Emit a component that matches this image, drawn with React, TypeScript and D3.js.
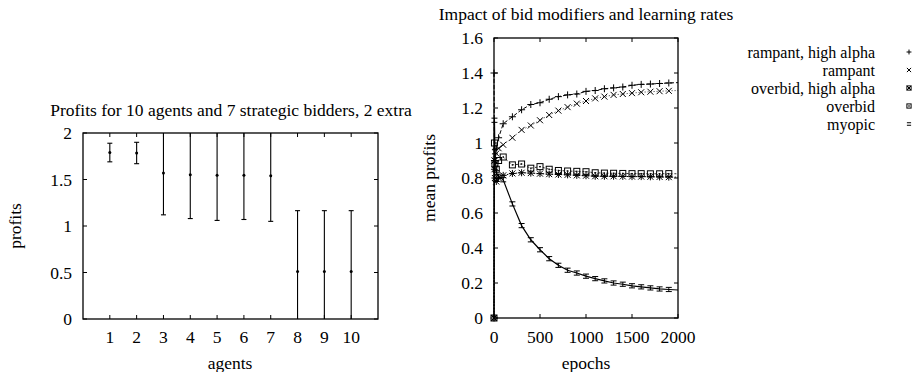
import React, { useEffect, useRef } from 'react';
import * as d3 from 'd3';

// left chart: profits per agent
const agents = [1, 2, 3, 4, 5, 6, 7, 8, 9, 10];
const agentMean = [1.79, 1.785, 1.57, 1.55, 1.545, 1.545, 1.54, 0.51, 0.51, 0.51];
const agentErr = [0.1, 0.115, 0.45, 0.47, 0.485, 0.475, 0.49, 0.655, 0.655, 0.655];
const agentTicks = [1, 2, 3, 4, 5, 6, 7, 8, 9, 10];
const profitTicks = [0, 0.5, 1, 1.5, 2];

// right chart: mean profits over epochs
const epochs = [0, 5, 10, 25, 50, 100, 200, 300, 400, 500, 600, 700, 800, 900, 1000,
  1100, 1200, 1300, 1400, 1500, 1600, 1700, 1800, 1900, 2000];
const rampantHigh = [1.4, 0.85, 0.9, 0.97, 1.03, 1.11, 1.15, 1.19, 1.22, 1.23, 1.25, 1.265, 1.275,
  1.28, 1.295, 1.3, 1.31, 1.315, 1.32, 1.33, 1.335, 1.337, 1.34, 1.343, 1.345];
const rampant = [0, 0.85, 0.9, 0.94, 0.97, 0.99, 1.03, 1.075, 1.1, 1.13, 1.16, 1.185, 1.205,
  1.225, 1.24, 1.255, 1.265, 1.275, 1.28, 1.285, 1.29, 1.293, 1.296, 1.298, 1.3];
const overbidHigh = [0, 0.9, 0.8, 0.78, 0.8, 0.815, 0.826, 0.83, 0.828, 0.825, 0.822, 0.82, 0.818,
  0.815, 0.813, 0.81, 0.81, 0.81, 0.809, 0.808, 0.808, 0.807, 0.806, 0.805, 0.805];
const overbid = [0, 1.0, 0.88, 0.85, 0.9, 0.92, 0.875, 0.88, 0.856, 0.865, 0.85, 0.843, 0.84,
  0.838, 0.836, 0.83, 0.828, 0.827, 0.826, 0.825, 0.825, 0.824, 0.824, 0.825, 0.824];
const myopic = [0, 1.13, 0.95, 0.83, 0.81, 0.79, 0.652, 0.528, 0.447, 0.39, 0.339, 0.301, 0.273,
  0.257, 0.239, 0.225, 0.212, 0.2, 0.193, 0.184, 0.178, 0.172, 0.166, 0.163, 0.16];
const myopicErr = 0.012;
const epochTicks = [0, 500, 1000, 1500, 2000];
const meanTicks = [0, 0.2, 0.4, 0.6, 0.8, 1, 1.2, 1.4, 1.6];
const seriesNames = ['rampant, high alpha', 'rampant', 'overbid, high alpha', 'overbid', 'myopic'];

const FONT = '"Liberation Serif", "DejaVu Serif", serif';

function marker(g: any, kind: string, x: number, y: number, s = 1) {
  if (kind === 'plus') {
    g.append('path').attr('d', `M${x - 3.5 * s},${y}h${7 * s}M${x},${y - 3.5 * s}v${7 * s}`).attr('stroke', '#000');
  } else if (kind === 'cross') {
    g.append('path').attr('d', `M${x - 3 * s},${y - 3 * s}l${6 * s},${6 * s}M${x - 3 * s},${y + 3 * s}l${6 * s},${-6 * s}`).attr('stroke', '#000');
  } else if (kind === 'star') {
    g.append('path')
      .attr('d', `M${x - 3.5},${y}h7M${x},${y - 3.5}v7M${x - 3},${y - 3}l6,6M${x - 3},${y + 3}l6,-6`)
      .attr('stroke', '#000');
  } else if (kind === 'square') {
    g.append('rect').attr('x', x - 3 * s).attr('y', y - 3 * s).attr('width', 6 * s).attr('height', 6 * s)
      .attr('fill', 'none').attr('stroke', '#000');
    g.append('rect').attr('x', x - 0.7).attr('y', y - 0.7).attr('width', 1.4).attr('height', 1.4).attr('fill', '#000');
  } else if (kind === 'boxstar') {
    g.append('rect').attr('x', x - 3 * s).attr('y', y - 3 * s).attr('width', 6 * s).attr('height', 6 * s)
      .attr('fill', 'none').attr('stroke', '#000');
    g.append('path').attr('d', `M${x - 3 * s},${y - 3 * s}l${6 * s},${6 * s}M${x - 3 * s},${y + 3 * s}l${6 * s},${-6 * s}`).attr('stroke', '#000');
  } else if (kind === 'equal') {
    g.append('path').attr('d', `M${x - 3 * s},${y - 1.8 * s}h${6 * s}M${x - 3 * s},${y + 1.8 * s}h${6 * s}`).attr('stroke', '#000');
  }
}

export default function App() {
  const ref = useRef<SVGSVGElement>(null);

  useEffect(() => {
    const svg = d3.select(ref.current);
    svg.selectAll('*').remove();
    svg.attr('font-family', FONT).attr('font-size', 17.5);

    // ---------- left chart ----------
    const L = { left: 83, right: 378, top: 133, bottom: 319 };
    const x1 = d3.scaleLinear().domain([0, 11]).range([L.left, L.right]);
    const y1 = d3.scaleLinear().domain([0, 2]).range([L.bottom, L.top]);

    const left = svg.append('g');
    left.append('defs').append('clipPath').attr('id', 'clipL')
      .append('rect').attr('x', L.left).attr('y', L.top)
      .attr('width', L.right - L.left).attr('height', L.bottom - L.top);

    const bars = left.append('g').attr('clip-path', 'url(#clipL)');
    agents.forEach((a, i) => {
      const cx = x1(a);
      const lo = agentMean[i] - agentErr[i];
      const hi = agentMean[i] + agentErr[i];
      bars.append('line').attr('x1', cx).attr('x2', cx).attr('y1', y1(lo)).attr('y2', y1(hi))
        .attr('stroke', '#000').attr('stroke-width', 1.1);
      [lo, hi].forEach(v => {
        bars.append('line').attr('x1', cx - 2.5).attr('x2', cx + 2.5).attr('y1', y1(v)).attr('y2', y1(v))
          .attr('stroke', '#000').attr('stroke-width', 1.1);
      });
      bars.append('circle').attr('cx', cx).attr('cy', y1(agentMean[i])).attr('r', 1.5).attr('fill', '#000');
    });

    agentTicks.forEach(t => {
      left.append('line').attr('x1', x1(t)).attr('x2', x1(t)).attr('y1', L.bottom).attr('y2', L.bottom - 4).attr('stroke', '#000');
      left.append('line').attr('x1', x1(t)).attr('x2', x1(t)).attr('y1', L.top).attr('y2', L.top + 4).attr('stroke', '#000');
      left.append('text').attr('x', x1(t)).attr('y', 343).attr('text-anchor', 'middle').text(t);
    });
    profitTicks.forEach(t => {
      left.append('line').attr('x1', L.left).attr('x2', L.left + 4).attr('y1', y1(t)).attr('y2', y1(t)).attr('stroke', '#000');
      left.append('line').attr('x1', L.right).attr('x2', L.right - 4).attr('y1', y1(t)).attr('y2', y1(t)).attr('stroke', '#000');
      left.append('text').attr('x', 72).attr('y', y1(t) + 6).attr('text-anchor', 'end').text(t);
    });
    left.append('rect').attr('x', L.left).attr('y', L.top).attr('width', L.right - L.left)
      .attr('height', L.bottom - L.top).attr('fill', 'none').attr('stroke', '#000').attr('stroke-width', 1.3);

    left.append('text').attr('x', 231).attr('y', 116).attr('text-anchor', 'middle')
      .text('Profits for 10 agents and 7 strategic bidders, 2 extra');
    left.append('text').attr('x', 230).attr('y', 369).attr('text-anchor', 'middle').text('agents');
    left.append('text').attr('transform', `translate(21,${(L.top + L.bottom) / 2}) rotate(-90)`)
      .attr('text-anchor', 'middle').text('profits');

    // ---------- right chart ----------
    const R = { left: 494, right: 678, top: 38, bottom: 318 };
    const x2 = d3.scaleLinear().domain([0, 2000]).range([R.left, R.right]);
    const y2 = d3.scaleLinear().domain([0, 1.6]).range([R.bottom, R.top]);

    const right = svg.append('g');
    right.append('defs').append('clipPath').attr('id', 'clipR')
      .append('rect').attr('x', R.left - 4).attr('y', R.top).attr('width', R.right - R.left + 4)
      .attr('height', R.bottom - R.top + 4);
    const plot = right.append('g').attr('clip-path', 'url(#clipR)');

    const series = [
      { values: rampantHigh, mark: 'plus', dash: '4,2', color: '#000', width: 1 },
      { values: rampant, mark: 'cross', dash: '1.2,1.8', color: '#555', width: 1 },
      { values: overbidHigh, mark: 'star', dash: '1.5,1.5', color: '#000', width: 1 },
      { values: overbid, mark: 'square', dash: '2,2', color: '#333', width: 1 },
      { values: myopic, mark: 'err', dash: null, color: '#000', width: 1.2 },
    ];

    const line = d3.line<number>().x((d, i) => x2(epochs[i])).y(d => y2(d));

    series.forEach(s => {
      const p = plot.append('path').attr('d', line(s.values)).attr('fill', 'none')
        .attr('stroke', s.color).attr('stroke-width', s.width);
      if (s.dash) p.attr('stroke-dasharray', s.dash);
      s.values.forEach((v, i) => {
        if (epochs[i] === 2000) return;
        const px = x2(epochs[i]);
        const py = y2(v);
        if (s.mark === 'err') {
          const top = y2(v + myopicErr);
          const bot = y2(v - myopicErr);
          plot.append('path')
            .attr('d', `M${px},${top}V${bot}M${px - 3},${top}h6M${px - 3},${bot}h6`)
            .attr('stroke', '#000').attr('fill', 'none');
        } else {
          marker(plot, s.mark, px, py);
        }
      });
    });

    epochTicks.forEach(t => {
      right.append('line').attr('x1', x2(t)).attr('x2', x2(t)).attr('y1', R.bottom).attr('y2', R.bottom - 4).attr('stroke', '#000');
      right.append('line').attr('x1', x2(t)).attr('x2', x2(t)).attr('y1', R.top).attr('y2', R.top + 4).attr('stroke', '#000');
      right.append('text').attr('x', x2(t)).attr('y', 343).attr('text-anchor', 'middle').text(t);
    });
    meanTicks.forEach(t => {
      right.append('line').attr('x1', R.left).attr('x2', R.left + 4).attr('y1', y2(t)).attr('y2', y2(t)).attr('stroke', '#000');
      right.append('line').attr('x1', R.right).attr('x2', R.right - 4).attr('y1', y2(t)).attr('y2', y2(t)).attr('stroke', '#000');
      right.append('text').attr('x', 483).attr('y', y2(t) + 6).attr('text-anchor', 'end').text(t);
    });
    right.append('rect').attr('x', R.left).attr('y', R.top).attr('width', R.right - R.left)
      .attr('height', R.bottom - R.top).attr('fill', 'none').attr('stroke', '#000').attr('stroke-width', 1.3);

    right.append('text').attr('x', 586).attr('y', 20).attr('text-anchor', 'middle')
      .text('Impact of bid modifiers and learning rates');
    right.append('text').attr('x', 586).attr('y', 369).attr('text-anchor', 'middle').text('epochs');
    right.append('text').attr('transform', `translate(435,${(R.top + R.bottom) / 2}) rotate(-90)`)
      .attr('text-anchor', 'middle').text('mean profits');

    // legend
    const legendMarks = ['plus', 'cross', 'boxstar', 'square', 'equal'];
    seriesNames.forEach((name, i) => {
      const ly = 52 + i * 18;
      right.append('text').attr('x', 875).attr('y', ly + 5.5).attr('text-anchor', 'end')
        .attr('font-size', 16).text(name);
      marker(right, legendMarks[i], 909, ly, 0.7);
    });
  }, []);

  return <svg ref={ref} width={915} height={372} style={{ position: 'absolute', left: 0, top: 0 }} />;
}
